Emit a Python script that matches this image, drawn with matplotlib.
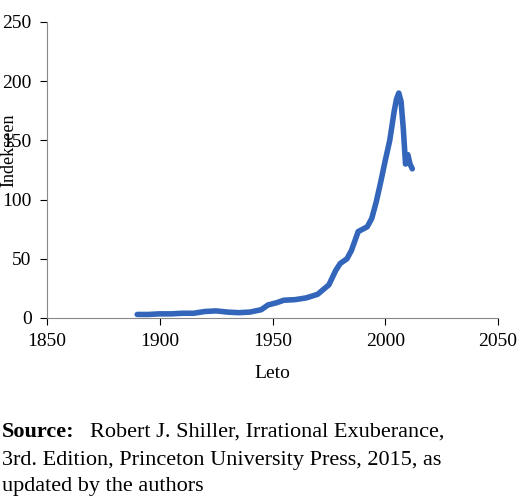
import matplotlib
matplotlib.use("Agg")
import matplotlib.pyplot as plt

years = [1890,1895,1900,1905,1910,1915,1920,1925,1930,1935,1940,1945,1948,1952,1955,1960,1965,1970,1975,1978,1980,1983,1985,1988,1990,1992,1994,1996,1998,2000,2002,2004,2005,2006,2007,2008,2009,2009.5,2010,2011,2012]
index = [3,3,3.5,3.5,4,4,5.5,6,5,4.5,5,7,11,13,15,15.5,17,20,28,40,46,50,57,73,75,77,84,98,115,133,150,175,185,190,183,160,130,135,138,130,126]

plt.rcParams['font.family'] = ['Liberation Serif', 'DejaVu Serif']
fig = plt.figure(figsize=(5.2, 5.04), dpi=100)
ax = fig.add_axes([47/520, 1-318/504, 451/520, 296/504])
ax.plot(years, index, color='#3366bb', lw=4, solid_capstyle='round')
ax.set_xlim(1850, 2050)
ax.set_ylim(0, 250)
ax.set_xticks(range(1850, 2051, 50))
ax.set_yticks(range(0, 251, 50))
ax.tick_params(labelsize=14, direction='out', length=5, pad=6)
for s in ['top', 'right']:
    ax.spines[s].set_visible(False)
for s in ['left', 'bottom']:
    ax.spines[s].set_color('#888888')
fig.text(272/520, 1-374/504, 'Leto', fontsize=14, ha='center', va='center')
fig.text(9/520, 1-150/504, 'Indekseen', fontsize=13, rotation=90, ha='center', va='center')
fig.text(2/520, 1-432/504, 'Source:', fontsize=16, fontweight='bold', va='center')
fig.text(90/520, 1-432/504, 'Robert J. Shiller, Irrational Exuberance,', fontsize=16, va='center')
fig.text(2/520, 1-460/504, '3rd. Edition, Princeton University Press, 2015, as', fontsize=16, va='center')
fig.text(2/520, 1-487/504, 'updated by the authors', fontsize=16, va='center')
fig.savefig('out.png', dpi=100)
